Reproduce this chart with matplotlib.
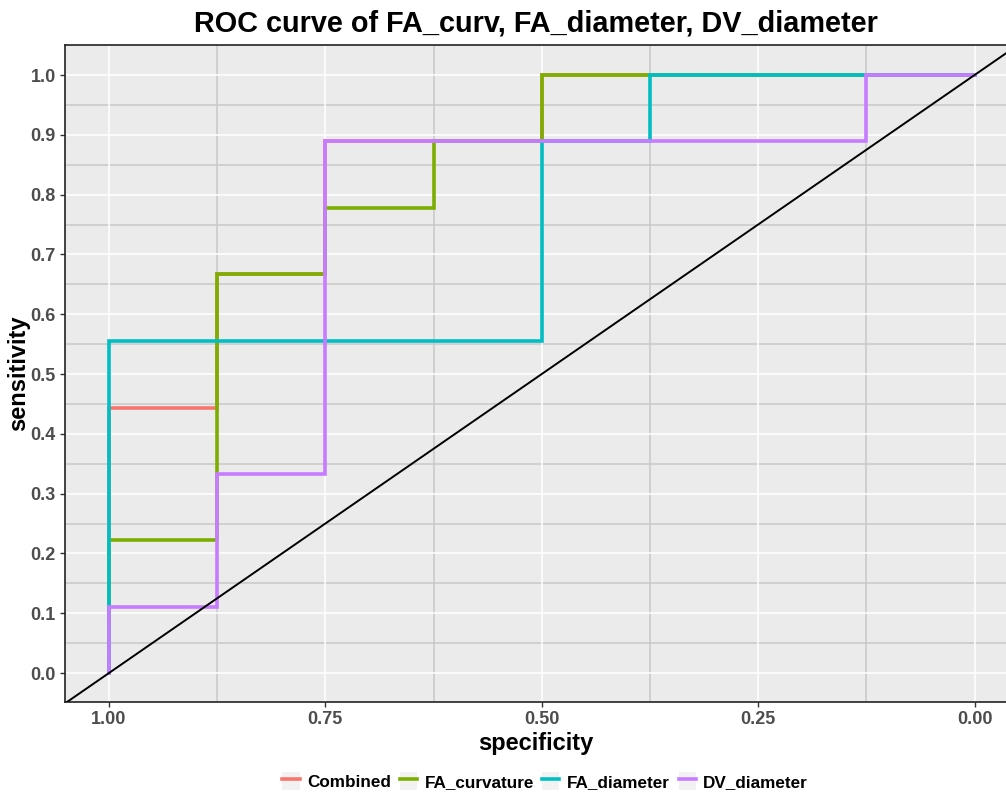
import matplotlib
matplotlib.use('Agg')
import matplotlib.pyplot as plt
import numpy as np
from matplotlib.lines import Line2D
from matplotlib.patches import Patch

plt.rcParams['font.family'] = ['Liberation Sans', 'DejaVu Sans']

# ROC step curves (specificity, sensitivity)
combined_spec = [1.0, 1.0, 0.875, 0.875, 0.75, 0.75, 0.5, 0.5, 0.0]
combined_sens = [0.0, 0.444, 0.444, 0.667, 0.667, 0.889, 0.889, 1.0, 1.0]

facurv_spec = [1.0, 1.0, 0.875, 0.875, 0.75, 0.75, 0.625, 0.625, 0.5, 0.5, 0.0]
facurv_sens = [0.0, 0.222, 0.222, 0.667, 0.667, 0.778, 0.778, 0.889, 0.889, 1.0, 1.0]

fadiam_spec = [1.0, 1.0, 0.5, 0.5, 0.375, 0.375, 0.0]
fadiam_sens = [0.0, 0.556, 0.556, 0.889, 0.889, 1.0, 1.0]

dvdiam_spec = [1.0, 1.0, 0.875, 0.875, 0.75, 0.75, 0.125, 0.125, 0.0]
dvdiam_sens = [0.0, 0.111, 0.111, 0.333, 0.333, 0.889, 0.889, 1.0, 1.0]

names = ['Combined', 'FA_curvature', 'FA_diameter', 'DV_diameter']
colors = ['#F8766D', '#7CAE00', '#00BFC4', '#C77CFF']
curves = [(combined_spec, combined_sens), (facurv_spec, facurv_sens),
          (fadiam_spec, fadiam_sens), (dvdiam_spec, dvdiam_sens)]

x_major = [1.0, 0.75, 0.5, 0.25, 0.0]
x_minor = [0.875, 0.625, 0.375, 0.125]
y_major = np.round(np.arange(0, 1.01, 0.1), 1)
y_minor = np.round(np.arange(0.05, 1.01, 0.1), 2)

fig = plt.figure(figsize=(10.06, 7.92), dpi=100)
ax = fig.add_axes([0.0646, 0.1136, 0.9354, 0.8296])
ax.set_facecolor('#EBEBEB')

# ggplot-like grid: grey minor, white major
for v in x_minor:
    ax.axvline(v, color='#C8C8C8', lw=1.1, zorder=0.5)
for v in y_minor:
    ax.axhline(v, color='#C8C8C8', lw=1.1, zorder=0.5)
for v in x_major:
    ax.axvline(v, color='white', lw=1.1, zorder=0.6)
for v in y_major:
    ax.axhline(v, color='white', lw=1.1, zorder=0.6)

for (sx, sy), c, n in zip(curves, colors, names):
    ax.plot(sx, sy, color=c, lw=2.6, label=n, solid_joinstyle='miter', zorder=2)

ax.axline((1, 0), (0, 1), color='black', lw=1.4, zorder=3)

ax.set_xlim(1.0508, -0.0363)
ax.set_ylim(-0.0485, 1.0502)
ax.set_xticks(x_major)
ax.set_xticklabels(['1.00', '0.75', '0.50', '0.25', '0.00'])
ax.set_yticks(y_major)
ax.set_yticklabels(['%.1f' % v for v in y_major])
ax.tick_params(axis='both', labelsize=13, colors='#333333', labelcolor='#4D4D4D',
               length=3.5, width=1, pad=3)
for lab in ax.get_xticklabels() + ax.get_yticklabels():
    lab.set_fontweight('bold')

for s in ['left', 'bottom', 'top']:
    ax.spines[s].set_color('#222222')
    ax.spines[s].set_linewidth(1.2)
ax.spines['right'].set_visible(False)

ax.set_xlabel('specificity', fontsize=17, fontweight='bold', labelpad=3)
ax.set_ylabel('sensitivity', fontsize=17, fontweight='bold', labelpad=0)
ax.set_title('ROC curve of FA_curv, FA_diameter, DV_diameter', fontsize=20.8,
             fontweight='bold', pad=10)

handles = [(Patch(facecolor='#F2F2F2', edgecolor='none'), Line2D([0], [0], color=c, lw=2.6))
           for c in colors]
leg = fig.legend(handles, names, loc='center', bbox_to_anchor=(0.542, 0.0139),
                 ncol=4, frameon=False, prop={'weight': 'bold', 'size': 12.3},
                 handlelength=1.0, handleheight=1.2, handletextpad=0.45,
                 columnspacing=0.5)

fig.savefig('out.png', dpi=100)
